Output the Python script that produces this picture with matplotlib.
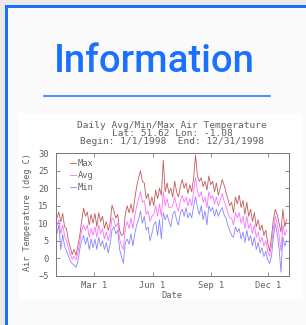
import numpy as np
import matplotlib
matplotlib.use("Agg")
import matplotlib.pyplot as plt
from matplotlib.patches import Rectangle
from matplotlib.lines import Line2D

# sampled every 3 days, day of year 1..364
day = np.arange(1, 366, 3)

t_max = [11.5, 13.2, 10.4, 12.8, 9.0, 8.5, 5.0, 3.2, 1.0, 2.5,
         0.8, 3.5, 6.5, 10.5, 14.3, 12.0, 13.2, 9.5, 12.5, 10.0,
         12.8, 9.0, 13.0, 10.5, 12.0, 8.5, 10.5, 8.0, 10.0, 15.2,
         13.5, 11.5, 12.5, 8.0, 6.5, 7.0, 12.5, 15.0, 13.0, 15.5,
         13.0, 17.0, 20.5, 23.0, 25.0, 22.0, 21.5, 17.0, 18.5, 15.0,
         17.5, 15.0, 19.5, 17.0, 20.0, 18.0, 28.0, 19.0, 21.5, 18.5,
         20.0, 17.5, 22.0, 19.0, 17.5, 20.5, 22.5, 20.0, 21.5, 18.5,
         21.0, 19.0, 23.0, 29.5, 23.5, 22.0, 23.0, 20.5, 22.0, 19.5,
         23.5, 21.0, 22.0, 19.0, 21.5, 18.0, 20.0, 22.5, 21.0, 19.0,
         17.0, 15.0, 16.0, 13.0, 17.5, 15.5, 18.0, 14.5, 16.5, 12.5,
         16.0, 12.0, 14.0, 10.5, 13.0, 9.0, 11.0, 8.0, 9.5, 6.5,
         8.0, 4.5, 2.0, 6.0, 11.0, 14.0, 12.5, 10.0, 7.5, 14.0,
         9.0, 11.0]
t_avg = [9.5, 11.0, 7.0, 9.5, 6.5, 5.0, 3.0, 1.0, -0.3, 0.5,
         -0.5, 1.5, 4.5, 8.0, 9.5, 8.0, 9.5, 6.0, 8.5, 6.5,
         9.0, 6.0, 9.5, 7.0, 8.5, 5.5, 7.5, 5.0, 7.0, 11.5,
         11.0, 9.0, 10.0, 5.5, 3.5, 2.5, 8.5, 10.5, 8.5, 11.5,
         8.5, 12.0, 15.0, 17.0, 19.0, 16.0, 16.5, 12.5, 13.5, 10.5,
         12.0, 12.5, 15.0, 12.0, 15.5, 12.0, 19.0, 15.0, 17.0, 14.5,
         14.5, 15.0, 17.5, 15.0, 13.5, 16.5, 18.0, 16.0, 17.5, 15.0,
         17.0, 15.0, 19.0, 23.0, 19.0, 17.5, 19.0, 16.0, 17.5, 14.5,
         19.0, 17.0, 18.0, 15.5, 17.5, 15.0, 16.5, 18.5, 16.5, 15.0,
         13.0, 11.5, 11.5, 9.5, 13.0, 11.5, 13.0, 10.0, 12.0, 8.5,
         12.0, 8.5, 10.0, 7.0, 9.5, 6.0, 7.5, 4.5, 6.0, 3.5,
         5.0, 2.0, 0.5, 3.5, 8.5, 12.0, 10.0, 6.5, 2.0, 9.5,
         6.5, 8.0]
t_min = [7.0, 9.5, 2.5, 6.8, 3.5, 2.0, 0.8, -0.8, -1.5, -2.0,
         -2.6, -1.0, 2.5, 5.0, 6.5, 4.0, 6.0, 2.5, 5.5, 3.0,
         5.5, 2.5, 6.0, 3.5, 5.0, 2.5, 4.5, 1.5, 4.0, 8.0,
         9.0, 7.0, 8.0, 2.5, 0.5, -1.5, 4.5, 5.5, 4.0, 7.0,
         3.5, 7.0, 9.5, 11.0, 13.5, 10.0, 12.0, 8.0, 9.0, 5.0,
         7.0, 9.5, 10.5, 6.5, 11.0, 5.5, 13.0, 11.0, 12.5, 10.5,
         9.0, 12.5, 13.5, 11.0, 9.5, 13.0, 14.0, 12.0, 14.5, 11.5,
         13.0, 11.5, 15.0, 17.5, 14.5, 12.5, 15.0, 11.0, 13.5, 9.5,
         15.0, 13.5, 14.5, 12.0, 14.0, 12.0, 13.5, 14.5, 12.5, 11.5,
         9.5, 8.0, 6.5, 6.0, 9.0, 7.5, 8.5, 5.5, 7.5, 4.5,
         8.0, 5.0, 6.5, 3.5, 6.0, 2.5, 4.5, 1.5, 3.0, 0.5,
         2.0, -0.5, -1.5, 0.5, 6.0, 10.0, 7.0, 3.0, -4.0, 6.0,
         3.5, 5.0]

month_ticks = [60, 152, 244, 335]
month_labels = ["Mar 1", "Jun 1", "Sep 1", "Dec 1"]
temp_ticks = [-5, 0, 5, 10, 15, 20, 25, 30]
title_lines = ["Daily Avg/Min/Max Air Temperature",
               "Lat: 51.62 Lon: -1.08",
               "Begin: 1/1/1998  End: 12/31/1998"]

W, H = 306, 325
BLUE = "#1a70ff"
GREY = "#606060"
MONO = "DejaVu Sans Mono"

fig = plt.figure(figsize=(W / 100, H / 100), dpi=100, facecolor="#e9e9e9")


def px_rect(x0, y0, x1, y1, color):
    # rectangle given in pixel coords measured from the top-left corner
    return Rectangle((x0 / W, 1 - y1 / H), (x1 - x0) / W, (y1 - y0) / H,
                     transform=fig.transFigure, facecolor=color,
                     edgecolor="none", zorder=-5)


# card with blue border on the left and top
fig.patches.append(px_rect(5, 5, W + 5, H + 5, BLUE))
fig.patches.append(px_rect(8, 8, W + 5, H + 5, "#fafafa"))
fig.patches.append(px_rect(19, 113, 303, 300, "white"))

head = fig.text(154.5 / W, 1 - 72.5 / H, "Information", ha="center",
                va="baseline", color=BLUE, family="Roboto",
                fontweight="medium", fontsize=26)
renderer = fig.canvas.get_renderer()
w = head.get_window_extent(renderer).width
head.set_fontsize(26 * 201 / w)
fig.add_artist(Line2D([44 / W, 270 / W], [1 - 96 / H] * 2, color=BLUE,
                      lw=1.1))

ax = fig.add_axes([55.7 / W, 1 - 275.7 / H, 233.3 / W, 122.4 / H])
ax.set_zorder(2)
ax.plot(day, t_max, color="#b83c3c", lw=0.6, alpha=0.85, label="Max")
ax.plot(day, t_avg, color="#ff55ff", lw=0.6, alpha=0.85, label="Avg")
ax.plot(day, t_min, color="#7070ff", lw=0.6, alpha=0.85, label="Min")
ax.set_xlim(-1, 367.7)
ax.set_ylim(-5, 30)
ax.set_xticks(month_ticks)
ax.set_xticklabels(month_labels)
ax.set_yticks(temp_ticks)
ax.tick_params(direction="in", top=True, right=True, length=3, width=0.6,
               color="#777777", labelsize=6.3, labelcolor=GREY, pad=4)
ax.tick_params(axis="y", pad=5)
for lab in ax.get_xticklabels() + ax.get_yticklabels():
    lab.set_family(MONO)
for s in ax.spines.values():
    s.set_color("#777777")
    s.set_linewidth(0.7)

leg = ax.legend(loc="upper left", bbox_to_anchor=(0.045, 0.98),
                frameon=False, handlelength=0.7, handletextpad=0.2,
                labelspacing=0.35, borderaxespad=0,
                prop={"family": MONO, "size": 6.3})
for txt in leg.get_texts():
    txt.set_color(GREY)

for i, line in enumerate(title_lines):
    fig.text(172.3 / W, 1 - (125.7 + 8 * i) / H, line, ha="center",
             va="center", family=MONO, fontsize=6.8, color=GREY)

fig.text(28 / W, 1 - 212 / H, "Air Temperature (deg C)", rotation=90,
         ha="center", va="center", family=MONO, fontsize=6.1, color=GREY)
fig.text(171.5 / W, 1 - 295.5 / H, "Date", ha="center", va="center",
         family=MONO, fontsize=6.3, color=GREY)

fig.savefig("out.png", dpi=100, facecolor=fig.get_facecolor())
